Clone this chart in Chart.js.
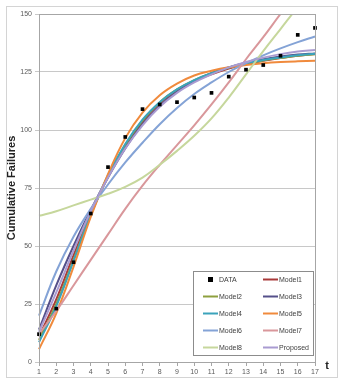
<!DOCTYPE html>
<html>
<head>
<meta charset="utf-8">
<script src="https://cdn.jsdelivr.net/npm/chart.js@4.4.1/dist/chart.umd.min.js"></script>
<style>
  body { margin: 0; background: #fff; }
  #wrap { width: 343px; height: 383px; }
</style>
</head>
<body>
<div id="wrap"><canvas id="myChart" width="343" height="383"></canvas></div>
<script>
// time points
const tLabels = ["1","2","3","4","5","6","7","8","9","10","11","12","13","14","15","16","17"];
const yTicks = [0, 25, 50, 75, 100, 125, 150];

// observed data
const failData = [12, 23, 43, 64, 84, 97, 109, 111, 112, 114, 116, 123, 126, 128, 132, 141, 144];

// fitted models
const model1 = [11, 27, 46, 64, 80, 93, 103.5, 111.5, 117, 121, 124, 126.5, 128.3, 129.8, 131, 132, 132.8];
const model2 = [9.5, 25, 44, 63.5, 80, 93.5, 104, 112, 117.5, 121.5, 124.5, 126.8, 128.5, 130, 131, 132, 132.7];
const model3 = [14, 33, 50, 65.5, 79.5, 92, 102.5, 110.5, 116.5, 121, 124.5, 127, 129, 130.5, 131.7, 132.5, 133];
const model4 = [8.5, 24, 43.5, 63.5, 80.5, 94, 104.5, 112, 117.5, 121.5, 124.5, 127, 128.8, 130.2, 131.3, 132.2, 132.9];
const model5 = [5.5, 21, 41, 62.5, 81, 96.5, 107.5, 115, 120, 123.5, 125.5, 127, 128, 128.8, 129.3, 129.6, 129.8];
const model6 = [20, 39, 54, 66, 76.5, 86, 94.5, 102.5, 109.5, 115.5, 120.5, 125, 128.8, 132.2, 135.2, 137.9, 140.3];
const model7 = [12, 22, 33, 44, 55, 66, 76, 85, 93.5, 102, 111, 120.5, 130.5, 140, 150, 159.5, 169];
const model8 = [63, 65, 67.5, 70, 72.5, 75.5, 79.5, 85, 91, 97.5, 105, 114, 124, 134, 143.5, 153, 162];
const proposed = [13, 30, 48, 65, 79.5, 92, 102, 110, 116, 120.5, 124, 127, 129.3, 131.2, 132.7, 133.8, 134.5];

const modelNames = ["Model1", "Model2", "Model3", "Model4", "Model5", "Model6", "Model7", "Model8", "Proposed"];
const modelSeries = [model1, model2, model3, model4, model5, model6, model7, model8, proposed];
const modelColors = ["#a93a3a", "#8ea03e", "#55508a", "#3ba3bb", "#f08a3c", "#84a3d6", "#d9979b", "#c6d79c", "#a99bd1"];

const fontFam = "'Liberation Sans', Arial, sans-serif";

let datasets = [{
  label: "DATA",
  data: failData,
  showLine: false,
  pointStyle: "rect",
  pointRadius: 2.6,
  backgroundColor: "#000",
  borderColor: "#000",
  borderWidth: 0,
  order: 0
}];
modelSeries.forEach((s, i) => {
  datasets.push({
    label: modelNames[i],
    data: s,
    borderColor: modelColors[i],
    backgroundColor: modelColors[i],
    borderWidth: 2,
    pointRadius: 0,
    tension: 0.4,
    fill: false,
    order: 10 - i
  });
});

// frame, plot border, "t" label and the boxed legend
const extras = {
  id: "extras",
  beforeDraw(chart) {
    const c = chart.ctx;
    c.save();
    c.fillStyle = "#fff";
    c.fillRect(0, 0, chart.width, chart.height);
    c.strokeStyle = "#d4d4d4";
    c.lineWidth = 1;
    c.strokeRect(6.5, 6.5, 331, 371);
    c.restore();
  },
  afterDraw(chart) {
    const c = chart.ctx;
    const a = chart.chartArea;
    c.save();
    c.strokeStyle = "#a6a6a6";
    c.lineWidth = 1;
    c.strokeRect(Math.round(a.left) + 0.5, Math.round(a.top) + 0.5, Math.round(a.right - a.left), Math.round(a.bottom - a.top));

    c.fillStyle = "#222";
    c.font = "bold 11px " + fontFam;
    c.textAlign = "center";
    c.textBaseline = "middle";
    c.fillText("t", 327, 366);

    // legend box
    const bx = 193, by = 271, bw = 120, bh = 84;
    c.fillStyle = "#fff";
    c.fillRect(bx, by, bw, bh);
    c.strokeStyle = "#8c8c8c";
    c.strokeRect(bx + 0.5, by + 0.5, bw, bh);
    c.font = "7px " + fontFam;
    c.textAlign = "left";
    chart.data.datasets.forEach((ds, i) => {
      const col = i % 2, row = Math.floor(i / 2);
      const y = 279.5 + row * 17;
      const x0 = col === 0 ? 203 : 263;
      if (ds.showLine === false) {
        c.fillStyle = "#000";
        c.fillRect(x0 + 5, y - 2.5, 5, 5);
      } else {
        c.strokeStyle = ds.borderColor;
        c.lineWidth = 2;
        c.beginPath();
        c.moveTo(x0, y);
        c.lineTo(x0 + 15, y);
        c.stroke();
      }
      c.fillStyle = "#404040";
      c.fillText(ds.label, x0 + 16, y + 0.5);
    });
    c.restore();
  }
};

new Chart(document.getElementById("myChart"), {
  type: "line",
  data: { labels: tLabels, datasets: datasets },
  options: {
    responsive: false,
    animation: false,
    devicePixelRatio: 1,
    layout: { padding: { top: 14, right: 28, left: 5, bottom: 0 } },
    plugins: {
      legend: { display: false },
      tooltip: { enabled: false }
    },
    scales: {
      x: {
        offset: false,
        grid: { drawOnChartArea: false, tickLength: 4, color: "#a6a6a6" },
        border: { color: "#a6a6a6" },
        ticks: { color: "#595959", font: { size: 7, family: fontFam }, padding: 2, maxRotation: 0, autoSkip: false },
        afterFit: (s) => { s.height = 21; }
      },
      y: {
        min: 0,
        max: 150,
        afterBuildTicks: (s) => { s.ticks = yTicks.map(v => ({ value: v })); },
        grid: { color: "#c8c8c8", tickLength: 4 },
        border: { color: "#a6a6a6" },
        ticks: { color: "#595959", font: { size: 7, family: fontFam }, padding: 3 },
        title: {
          display: true,
          text: "Cumulative Failures",
          color: "#222",
          font: { size: 11, weight: "bold", family: fontFam },
          padding: { top: 0, bottom: 0 }
        },
        afterFit: (s) => { s.width = 34; }
      }
    }
  },
  plugins: [extras]
});
</script>
</body>
</html>
